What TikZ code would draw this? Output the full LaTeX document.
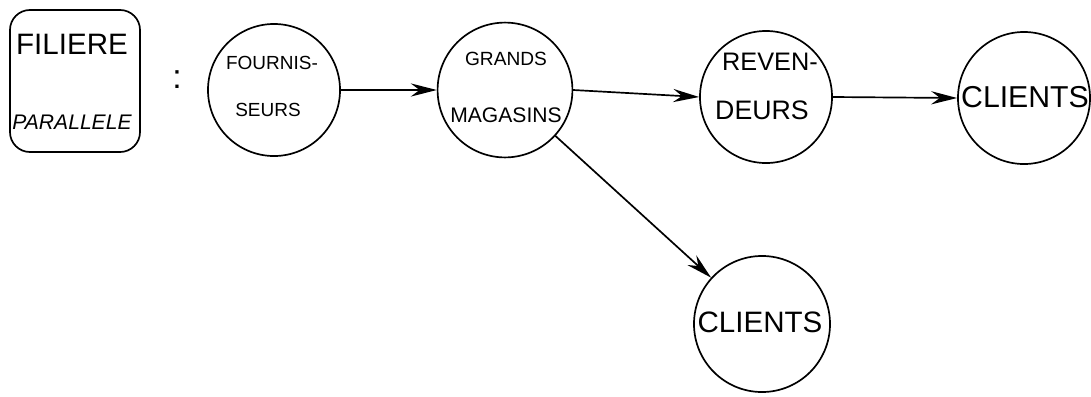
\documentclass[tikz,border=0pt]{standalone}
\usepackage{fontspec}
\setmainfont{Liberation Sans}
\usetikzlibrary{arrows.meta}

\newcommand{\fsz}[1]{\fontsize{#1}{#1}\selectfont}

\begin{document}
\begin{tikzpicture}[x=0.025cm,y=-0.025cm,line cap=round,line join=round,
  site/.style={circle,draw,line width=1.2pt,minimum size=3.3cm,inner sep=0pt},
  flow/.style={line width=1.2pt,-{Stealth[length=6.5mm,width=3.3mm,inset=2.2mm]}},
  lbl/.style={inner sep=0pt,anchor=center}]
  \useasboundingbox (0,0) rectangle (1091,396);
  \node[draw,line width=1.2pt,rounded corners=0.5cm,minimum width=3.25cm,minimum height=3.55cm] (filiere) at (75,81) {};
  \node[lbl,font=\fsz{21}] (tfil) at (72,44) {FILIERE};
  \node[lbl,font=\fsz{15}\itshape] (tpar) at (72,122) {PARALLELE};
  \node[lbl,font=\fsz{24}] (colon) at (177,80) {:};
  \node[site] (fourn) at (274,90) {};
  \node[lbl,font=\fsz{13.5}] (tfourn) at (272,63) {FOURNIS-};
  \node[lbl,font=\fsz{13.5}] (tseurs) at (268,110) {SEURS};
  \node[site,minimum size=3.37cm] (grands) at (505,90) {};
  \node[lbl,font=\fsz{13.6}] (tgrands) at (506,59) {GRANDS};
  \node[lbl,font=\fsz{15}] (tmaga) at (506,115) {MAGASINS};
  \node[site] (reven) at (766,97) {};
  \node[lbl,font=\fsz{18}] (treven) at (770,62) {REVEN-};
  \node[lbl,font=\fsz{19}] (tdeurs) at (762,110) {DEURS};
  \node[site] (clienta) at (1024,98) {};
  \node[lbl,font=\fsz{21.5}] (tclienta) at (1025,97) {CLIENTS};
  \node[site,minimum size=3.4cm] (clientb) at (762,324) {};
  \node[lbl,font=\fsz{21}] (tclientb) at (760,322) {CLIENTS};
  \draw[flow] (fourn.east) -- (grands.west);
  \draw[flow] (grands.east) -- (reven.west);
  \draw[flow] (reven.east) -- (clienta.west);
  \draw[flow] (grands) -- (clientb);
\end{tikzpicture}
\end{document}
